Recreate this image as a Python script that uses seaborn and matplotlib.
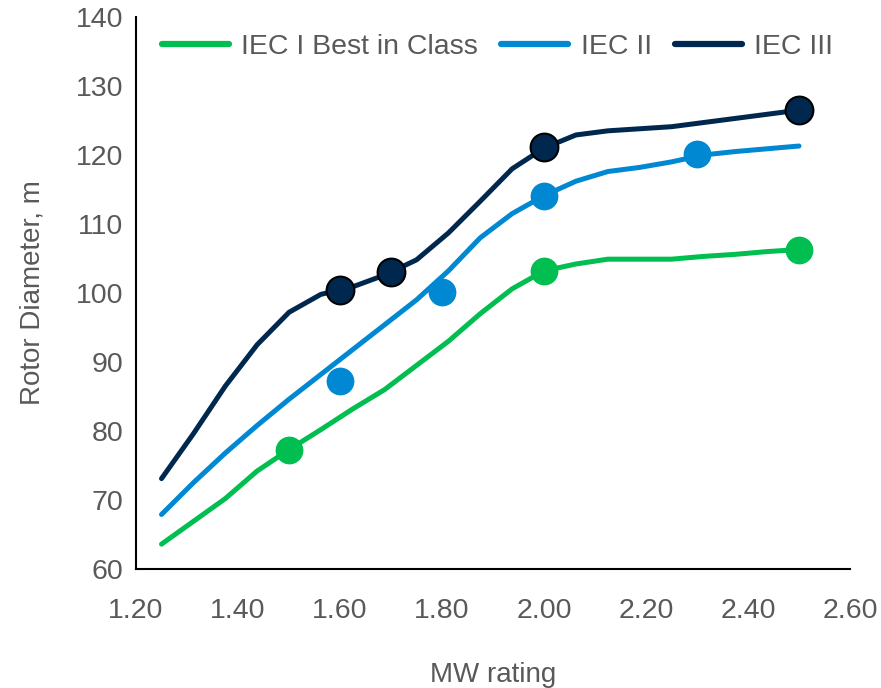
import numpy as np
import pandas as pd
import matplotlib
matplotlib.use("Agg")
import matplotlib.pyplot as plt
import seaborn as sns

# Fitted trend curves (MW rating vs rotor diameter)
mw_grid = [1.25, 1.3125, 1.375, 1.4375, 1.5, 1.5625, 1.625, 1.6875, 1.75, 1.8125,
           1.875, 1.9375, 2.0, 2.0625, 2.125, 2.1875, 2.25, 2.3125, 2.375, 2.4375, 2.5]
iec1_curve = [63.6, 66.9, 70.2, 74.2, 77.3, 80.2, 83.2, 86.0, 89.5, 93.0,
              97.0, 100.6, 103.2, 104.2, 104.9, 104.9, 104.9, 105.3, 105.6, 106.0, 106.3]
iec2_curve = [67.9, 72.5, 76.8, 80.8, 84.6, 88.2, 91.8, 95.4, 99.0, 103.2,
              108.0, 111.5, 114.1, 116.2, 117.6, 118.2, 119.0, 120.0, 120.5, 120.9, 121.3]
iec3_curve = [73.1, 79.6, 86.5, 92.5, 97.2, 99.8, 100.9, 102.6, 104.8, 108.7,
              113.3, 118.0, 121.0, 122.9, 123.5, 123.8, 124.1, 124.7, 125.3, 125.9, 126.5]

# Individual turbine models
iec1_mw = [1.5, 2.0, 2.5]
iec1_rd = [77.3, 103.2, 106.3]
iec2_mw = [1.6, 1.8, 2.0, 2.3]
iec2_rd = [87.2, 100.2, 114.1, 120.1]
iec3_mw = [1.6, 1.7, 2.0, 2.5]
iec3_rd = [100.4, 103.1, 121.1, 126.5]

series = ["IEC I Best in Class", "IEC II", "IEC III"]
colors = {"IEC I Best in Class": "#00BE4F", "IEC II": "#0089D2", "IEC III": "#00284F"}

x_ticks = [1.20, 1.40, 1.60, 1.80, 2.00, 2.20, 2.40, 2.60]
y_ticks = [60, 70, 80, 90, 100, 110, 120, 130, 140]

curves = pd.concat([
    pd.DataFrame({"MW": mw_grid, "RD": vals, "Class": name})
    for name, vals in zip(series, [iec1_curve, iec2_curve, iec3_curve])
])
points = pd.concat([
    pd.DataFrame({"MW": mw, "RD": rd, "Class": name})
    for name, mw, rd in zip(series, [iec1_mw, iec2_mw, iec3_mw], [iec1_rd, iec2_rd, iec3_rd])
])

sns.set_theme(style="white")
plt.rcParams["font.family"] = ["Liberation Sans", "DejaVu Sans"]
text_color = "#595959"

fig = plt.figure(figsize=(8.81, 6.88), dpi=100)
ax = fig.add_axes([0.1544, 0.173, 0.8104, 0.8023])

sns.lineplot(data=curves, x="MW", y="RD", hue="Class", palette=colors,
             hue_order=series, linewidth=3.6, ax=ax, legend=False, zorder=2)

for name in series:
    sub = points[points["Class"] == name]
    edge = "black" if name == "IEC III" else colors[name]
    sns.scatterplot(data=sub, x="MW", y="RD", color=colors[name], s=400,
                    edgecolor=edge, linewidth=1.5 if name == "IEC III" else 0,
                    ax=ax, legend=False, zorder=3)

ax.set_xlim(1.20, 2.60)
ax.set_ylim(60, 140)
ax.set_xticks(x_ticks)
ax.set_xticklabels([f"{v:.2f}" for v in x_ticks])
ax.set_yticks(y_ticks)
ax.set_yticklabels([str(v) for v in y_ticks])

for side in ["top", "right"]:
    ax.spines[side].set_visible(False)
for side in ["left", "bottom"]:
    ax.spines[side].set_color("black")
    ax.spines[side].set_linewidth(1.5)

ax.tick_params(axis="both", direction="out", length=6, width=1.5, color="black",
               labelsize=20.5, labelcolor=text_color)
ax.tick_params(axis="y", pad=3)
ax.tick_params(axis="x", pad=15)

ax.set_xlabel("MW rating", fontsize=20, color=text_color, labelpad=27)
ax.set_ylabel("Rotor Diameter, m", fontsize=20, color=text_color, labelpad=22)

handles = [plt.Line2D([], [], color=colors[n], linewidth=4.5) for n in series]
ax.legend(handles, series, loc="center left", bbox_to_anchor=(0.02, 0.945),
          ncol=3, frameon=False, fontsize=20.5, labelcolor=text_color,
          handlelength=2.35, handletextpad=0.45, columnspacing=0.8,
          borderaxespad=0)

fig.savefig("out.png", dpi=100)
